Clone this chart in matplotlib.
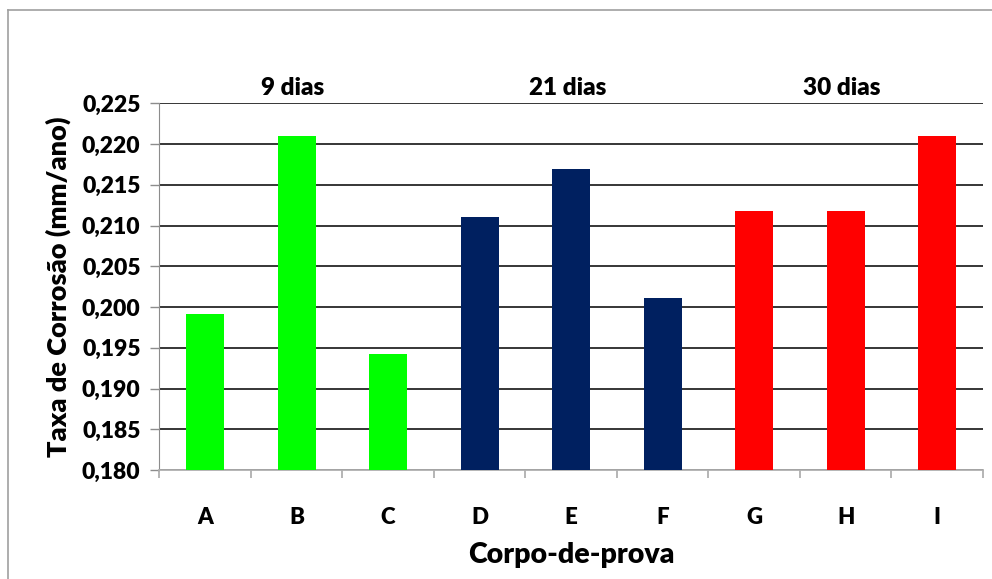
import matplotlib
matplotlib.use("Agg")
import matplotlib.pyplot as plt
from matplotlib.lines import Line2D
from matplotlib.transforms import blended_transform_factory

# Corrosion rate per specimen, grouped by exposure time
specimens = ["A", "B", "C", "D", "E", "F", "G", "H", "I"]
rates = [0.1991, 0.2210, 0.1942, 0.2111, 0.2169, 0.2011, 0.2118, 0.2118, 0.2210]
groups = ["9 dias", "21 dias", "30 dias"]
group_colors = ["#00FF00", "#002060", "#FF0000"]
group_size = 3
y_ticks = [0.180, 0.185, 0.190, 0.195, 0.200, 0.205, 0.210, 0.215, 0.220, 0.225]

plt.rcParams["font.family"] = ["Lato", "DejaVu Sans"]
WEIGHT = "heavy"

W, H = 992, 579
fig = plt.figure(figsize=(W / 100, H / 100), dpi=100)
ax = fig.add_axes([159.3 / W, (H - 470) / H, (983 - 159.3) / W, (470 - 103.3) / H])

x = list(range(len(specimens)))
colors = [group_colors[i // group_size] for i in x]
ax.bar(x, [r - 0.180 for r in rates], bottom=0.180, width=0.415, color=colors, zorder=3)

ax.set_xlim(-0.5, len(specimens) - 0.5)
ax.set_ylim(y_ticks[0], y_ticks[-1])

# y axis
ax.set_yticks(y_ticks)
ax.set_yticklabels([f"{v:.3f}".replace(".", ",") for v in y_ticks], fontsize=16.5, fontweight=WEIGHT)
ax.tick_params(axis="y", length=6.5, width=1, color="#8c8c8c", pad=7)
ax.yaxis.grid(True, color="black", linewidth=1.1, zorder=1)
ax.set_axisbelow(True)

# x axis: labels centred on bars, tick marks between categories
ax.set_xticks(x)
ax.set_xticklabels(specimens, fontsize=16, fontweight=WEIGHT)
ax.set_xticks([i - 0.5 for i in range(len(specimens) + 1)], minor=True)
ax.tick_params(axis="x", which="major", length=0, pad=27)
ax.tick_params(axis="x", which="minor", length=6, width=1.3, color="#b0b0b0")

for side in ("top", "right"):
    ax.spines[side].set_visible(False)
ax.spines["left"].set_color("#8c8c8c")
ax.spines["bottom"].set_color("#b0b0b0")
ax.spines["bottom"].set_linewidth(1.3)

ax.set_xlabel("Corpo-de-prova", fontsize=20.5, fontweight=WEIGHT, labelpad=10)
ax.set_ylabel("Taxa de Corrosão (mm/ano)", fontsize=19.5, fontweight=WEIGHT, labelpad=8)

# group labels above the middle bar of each group
trans = blended_transform_factory(ax.transData, fig.transFigure)
for g, name in enumerate(groups):
    ax.text(g * group_size + 1 - 0.04, (H - 88) / H, name, transform=trans,
            ha="center", va="center", fontsize=17.5, fontweight=WEIGHT)

# outer chart frame
frame_color = "#a0a0a0"
fig.add_artist(Line2D([8 / W, 1], [(H - 10) / H, (H - 10) / H], transform=fig.transFigure,
                      color=frame_color, linewidth=1.2))
fig.add_artist(Line2D([8 / W, 8 / W], [0, (H - 10) / H], transform=fig.transFigure,
                      color=frame_color, linewidth=1.2))

fig.savefig("out.png", dpi=100, facecolor="white")
